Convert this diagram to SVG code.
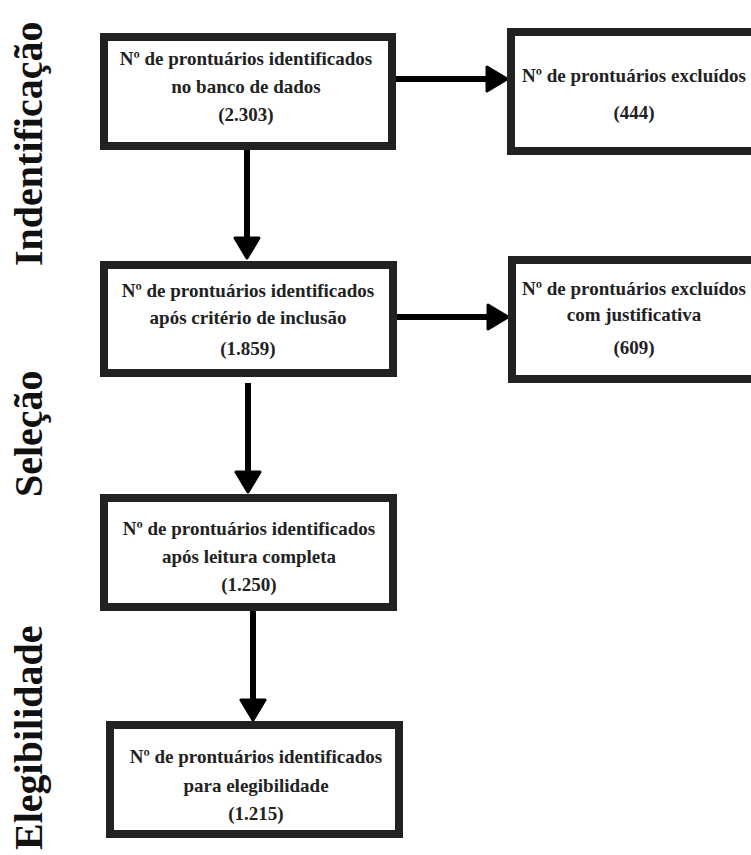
<svg xmlns="http://www.w3.org/2000/svg" width="751" height="855" viewBox="0 0 751 855">
<style>
.box{fill:#fff;stroke:#222;stroke-width:8}
.t{font-family:"Liberation Serif","Times New Roman",serif;font-weight:bold;font-size:19px;fill:#222;text-anchor:middle}
.side{font-family:"Liberation Serif","Times New Roman",serif;font-weight:bold;font-size:40px;fill:#111}
.conn{stroke:#000;stroke-width:6;fill:none}
</style>
<defs>
<marker id="ah" markerUnits="userSpaceOnUse" markerWidth="30" markerHeight="30" viewBox="-2 -15 26 30" refX="0" refY="0" orient="auto">
<path d="M0,-12 L20,0 L0,12 Z" fill="#000" stroke="#000" stroke-width="3" stroke-linejoin="round"/>
</marker>
</defs>
<rect width="751" height="855" fill="#fff"/>
<g id="labels">
<text class="side" transform="translate(42,266) rotate(-90)">Indentificação</text>
<text class="side" transform="translate(42,497) rotate(-90)">Seleção</text>
<text class="side" transform="translate(42,850) rotate(-90)">Elegibilidade</text>
</g>
<g id="connectors">
<path class="conn" d="M247,150 V238" marker-end="url(#ah)"/>
<path class="conn" d="M248,383 V472" marker-end="url(#ah)"/>
<path class="conn" d="M253,611 V700" marker-end="url(#ah)"/>
<path class="conn" d="M396,79 H487" marker-end="url(#ah)"/>
<path class="conn" d="M397,317 H488" marker-end="url(#ah)"/>
</g>
<g id="n1">
<rect class="box" x="104" y="37" width="288" height="109"/>
<text class="t" x="246" y="65">Nº de prontuários identificados</text>
<text class="t" x="246" y="93">no banco de dados</text>
<text class="t" x="246" y="121">(2.303)</text>
</g>
<g id="n2">
<rect class="box" x="511" y="32" width="260" height="119"/>
<text class="t" x="634" y="82">Nº de prontuários excluídos</text>
<text class="t" x="634" y="119">(444)</text>
</g>
<g id="n3">
<rect class="box" x="104" y="265" width="289" height="108"/>
<text class="t" x="248" y="297">Nº de prontuários identificados</text>
<text class="t" x="248" y="324">após critério de inclusão</text>
<text class="t" x="248" y="355">(1.859)</text>
</g>
<g id="n4">
<rect class="box" x="512" y="260" width="260" height="119"/>
<text class="t" x="634" y="295">Nº de prontuários excluídos</text>
<text class="t" x="634" y="321">com justificativa</text>
<text class="t" x="634" y="354">(609)</text>
</g>
<g id="n5">
<rect class="box" x="104" y="498" width="289" height="109"/>
<text class="t" x="249" y="535">Nº de prontuários identificados</text>
<text class="t" x="249" y="563">após leitura completa</text>
<text class="t" x="249" y="591">(1.250)</text>
</g>
<g id="n6">
<rect class="box" x="110" y="725" width="289" height="109"/>
<text class="t" x="256" y="763">Nº de prontuários identificados</text>
<text class="t" x="256" y="792">para elegibilidade</text>
<text class="t" x="256" y="820">(1.215)</text>
</g>
</svg>
